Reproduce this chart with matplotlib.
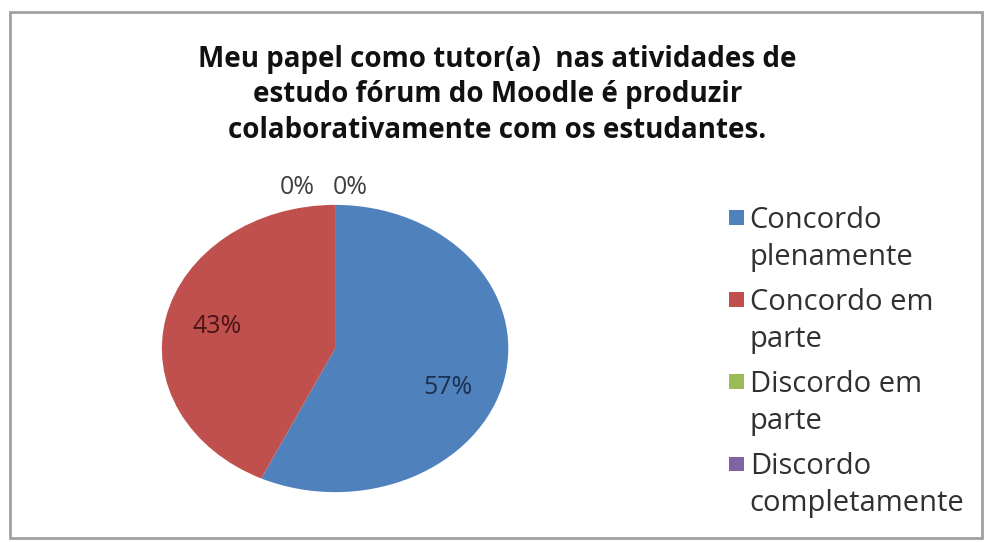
import matplotlib.pyplot as plt
from matplotlib.patches import Patch, Rectangle
from matplotlib.legend_handler import HandlerPatch

plt.rcParams['font.family'] = ['Open Sans', 'DejaVu Sans']

categories = ['Concordo\nplenamente', 'Concordo em\nparte', 'Discordo em\nparte', 'Discordo\ncompletamente']
values = [57, 43, 0, 0]
colors = ['#4F81BD', '#C0504D', '#9BBB59', '#8064A2']
title = 'Meu papel como tutor(a)  nas atividades de\nestudo fórum do Moodle é produzir\ncolaborativamente com os estudantes.'

fig = plt.figure(figsize=(9.87, 5.42), dpi=100)
fig.patches.append(Rectangle((0.010, 0.008), 0.985, 0.970, transform=fig.transFigure,
                             fill=False, edgecolor='#a0a0a0', linewidth=2))

fig.text(0.504, 0.825, title, ha='center', va='center', fontsize=20, fontweight='bold',
         color='#111111', linespacing=1.3)

# stretched pie, like the original
ax = fig.add_axes([0.164, 0.092, 0.351, 0.530])
wedges, texts, autotexts = ax.pie(values, colors=colors, startangle=90, counterclock=False,
                                  autopct='%1.0f%%', pctdistance=0.7,
                                  wedgeprops=dict(linewidth=0),
                                  textprops=dict(fontsize=18))
ax.set_aspect('auto')
ax.set_xlim(-1, 1)
ax.set_ylim(-1, 1)

label_colors = ['#1c2f4f', '#4a1414', '#404040', '#404040']
zero_pos = [(-0.22, 1.12), (0.09, 1.12)]
zi = 0
for t, v, c in zip(autotexts, values, label_colors):
    t.set_color(c)
    if v == 0:
        t.set_position(zero_pos[zi])
        zi += 1
    elif v == max(values):
        x, y = t.get_position()
        t.set_position((x - 0.03, y - 0.12))


# square marker next to the first line of each two-line label
def top_square(legend, orig_handle, xdescent, ydescent, width, height, fontsize):
    s = 0.5 * fontsize
    return Rectangle((-xdescent, -ydescent + height - s + 0.15 * fontsize), s, s)


handles = [Patch(facecolor=c, edgecolor='none') for c in colors]
leg = fig.legend(handles, categories, loc='upper left', bbox_to_anchor=(0.727, 0.641),
                 frameon=False, handlelength=0.55, handleheight=2.4,
                 handletextpad=0.15, labelspacing=0.56, borderaxespad=0,
                 prop=dict(size=21),
                 handler_map={Patch: HandlerPatch(patch_func=top_square)})
for t in leg.get_texts():
    t.set_linespacing(1.35)
    t.set_color('#303030')

fig.savefig('out.png', dpi=100)
